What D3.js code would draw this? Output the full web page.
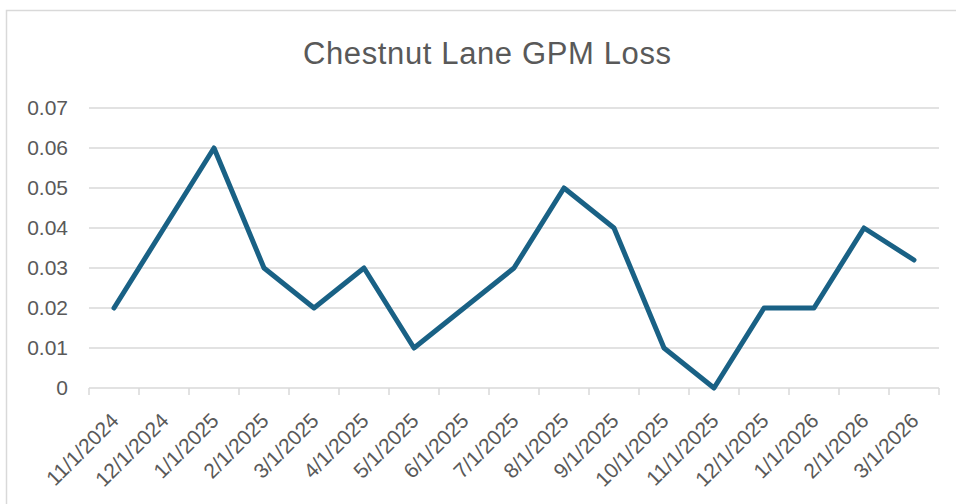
<!DOCTYPE html>
<html>
<head>
<meta charset="utf-8">
<script src="https://cdn.jsdelivr.net/npm/d3@7.9.0/dist/d3.min.js"></script>
<style>
  body { margin: 0; background: #fff; }
  svg { display: block; }
</style>
</head>
<body>
<svg width="956" height="504"></svg>
<script>
const months = ['11/1/2024','12/1/2024','1/1/2025','2/1/2025','3/1/2025','4/1/2025','5/1/2025','6/1/2025','7/1/2025','8/1/2025','9/1/2025','10/1/2025','11/1/2025','12/1/2025','1/1/2026','2/1/2026','3/1/2026'];
const gpmLoss = [0.02,0.04,0.06,0.03,0.02,0.03,0.01,0.02,0.03,0.05,0.04,0.01,0,0.02,0.02,0.04,0.032];
const yTicks = [0,0.01,0.02,0.03,0.04,0.05,0.06,0.07];

const svg = d3.select('svg');
const grey = '#595959';

// chart frame
svg.append('rect')
  .attr('x', 6.5).attr('y', 10.5)
  .attr('width', 960).attr('height', 500)
  .attr('fill', 'none').attr('stroke', '#d9d9d9').attr('stroke-width', 1.5);

svg.append('text')
  .attr('x', 487).attr('y', 64)
  .attr('text-anchor', 'middle')
  .attr('font-family', '"Liberation Sans", sans-serif')
  .attr('font-size', 31)
  .attr('textLength', 368)
  .attr('fill', grey)
  .text('Chestnut Lane GPM Loss');

let x = d3.scaleBand().domain(months).range([89, 939]);
let y = d3.scaleLinear().domain([0, 0.07]).range([388, 108]);

// gridlines
svg.append('g')
  .selectAll('line')
  .data(yTicks.filter(d => d > 0))
  .join('line')
  .attr('x1', 89).attr('x2', 939)
  .attr('y1', d => y(d)).attr('y2', d => y(d))
  .attr('stroke', '#d9d9d9').attr('stroke-width', 1.5);

// y axis labels
let yAxis = svg.append('g')
  .attr('transform', 'translate(68,0)')
  .call(d3.axisLeft(y).tickValues(yTicks).tickSize(0).tickPadding(0).tickFormat(d => d === 0 ? '0' : d3.format('.2f')(d)));
yAxis.select('.domain').remove();
yAxis.selectAll('text')
  .attr('font-family', '"Liberation Sans", Arial, sans-serif')
  .attr('font-size', 21)
  .attr('fill', grey);

// x axis
let xAxis = svg.append('g')
  .attr('transform', 'translate(0,388)')
  .call(d3.axisBottom(x).tickSize(0).tickPadding(0));
xAxis.select('.domain')
  .attr('d', 'M89,0H939')
  .attr('stroke', '#d9d9d9').attr('stroke-width', 1.5);
xAxis.selectAll('.tick line').remove();
xAxis.selectAll('.tick text')
  .attr('font-family', '"Liberation Sans", Arial, sans-serif')
  .attr('font-size', 21)
  .attr('fill', grey)
  .attr('text-anchor', 'end')
  .attr('dy', null)
  .attr('transform', 'translate(6,34) rotate(-45)');

// band boundary ticks
svg.append('g')
  .selectAll('line')
  .data(months.concat(['end']))
  .join('line')
  .attr('x1', (d, i) => i < months.length ? x(d) : x.range()[1])
  .attr('x2', (d, i) => i < months.length ? x(d) : x.range()[1])
  .attr('y1', 388).attr('y2', 395)
  .attr('stroke', '#d9d9d9').attr('stroke-width', 1.5);

// line
let line = d3.line()
  .x((d, i) => x(months[i]) + x.bandwidth() / 2)
  .y(d => y(d));

svg.append('path')
  .datum(gpmLoss)
  .attr('d', line)
  .attr('fill', 'none')
  .attr('stroke', '#196185')
  .attr('stroke-width', 5)
  .attr('stroke-linejoin', 'round')
  .attr('stroke-linecap', 'round');
</script>
</body>
</html>
